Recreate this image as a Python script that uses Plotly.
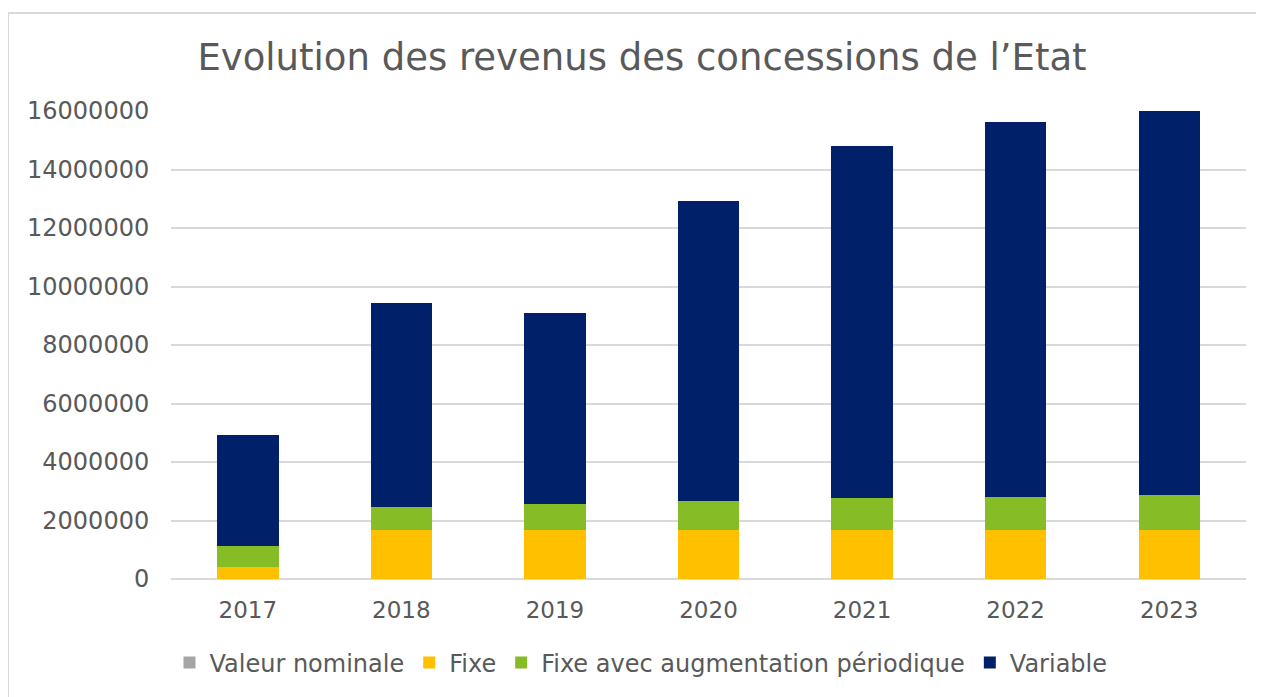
import plotly.graph_objects as go

years = ["2017", "2018", "2019", "2020", "2021", "2022", "2023"]
valeur_nominale = [0, 0, 0, 0, 0, 0, 0]
fixe = [420000, 1670000, 1680000, 1680000, 1680000, 1680000, 1680000]
fixe_aug = [710000, 790000, 890000, 990000, 1100000, 1140000, 1190000]
variable = [3800000, 6960000, 6520000, 10260000, 12040000, 12820000, 13150000]

series = [
    ("Valeur nominale", valeur_nominale, "#A5A5A5"),
    ("Fixe", fixe, "#FFC000"),
    ("Fixe avec augmentation périodique", fixe_aug, "#86BC25"),
    ("Variable", variable, "#002169"),
]

FONT = "DejaVu Sans"
GREY = "#595959"

fig = go.Figure()
for name, vals, col in series:
    fig.add_trace(go.Bar(x=years, y=vals, name=name, marker_color=col,
                         marker_line_width=0))

# page offset of 8px (body margin) is compensated
OFF = 8
W, H = 1256, 689
L, R, T, B = 171 - OFF, 1246 - OFF, 111 - OFF, 579 - OFF
pw, ph = R - L, B - T

fig.update_layout(
    width=W, height=H,
    barmode="stack", bargap=0.6,
    plot_bgcolor="white", paper_bgcolor="white",
    margin=dict(l=L, r=W - R, t=T, b=H - B, autoexpand=False),
    font=dict(family=FONT, color=GREY, size=24),
    title=dict(text="Evolution des revenus des concessions de l\u2019Etat",
               x=(642 - OFF) / W, xanchor="center", y=1 - (57 - OFF) / H,
               yanchor="middle",
               font=dict(family=FONT, size=37, color=GREY)),
    xaxis=dict(showgrid=False, showline=False, ticks="outside", ticklen=10,
               tickcolor="rgba(0,0,0,0)", tickfont=dict(size=23, color=GREY)),
    yaxis=dict(range=[0, 16000000], dtick=2000000, tickformat="d",
               showgrid=True, gridcolor="#D9D9D9", gridwidth=1.5,
               zeroline=True, zerolinecolor="#D9D9D9", zerolinewidth=1.5,
               ticks="outside", ticklen=16, tickcolor="rgba(0,0,0,0)",
               tickfont=dict(size=24, color=GREY)),
    legend=dict(orientation="h", x=(641 - OFF - L) / pw, xanchor="center",
                y=(B - (663 - OFF)) / ph, yanchor="middle",
                font=dict(size=24, color=GREY), traceorder="normal"),
    showlegend=True,
)

# chart-area border (top and left edges visible)
top_y = (B - 5) / ph
left_x = (0 - L) / pw
fig.add_shape(type="line", xref="paper", yref="paper",
              x0=left_x, x1=(W + 40 - L) / pw, y0=top_y, y1=top_y,
              line=dict(color="#D9D9D9", width=2), layer="below")
fig.add_shape(type="line", xref="paper", yref="paper",
              x0=left_x, x1=left_x, y0=top_y, y1=(B - (H + 40)) / ph,
              line=dict(color="#D9D9D9", width=2), layer="below")

fig.write_html("out.html",
               post_script="document.documentElement.style.overflow='hidden';"
                           "document.body.style.overflow='hidden';")
